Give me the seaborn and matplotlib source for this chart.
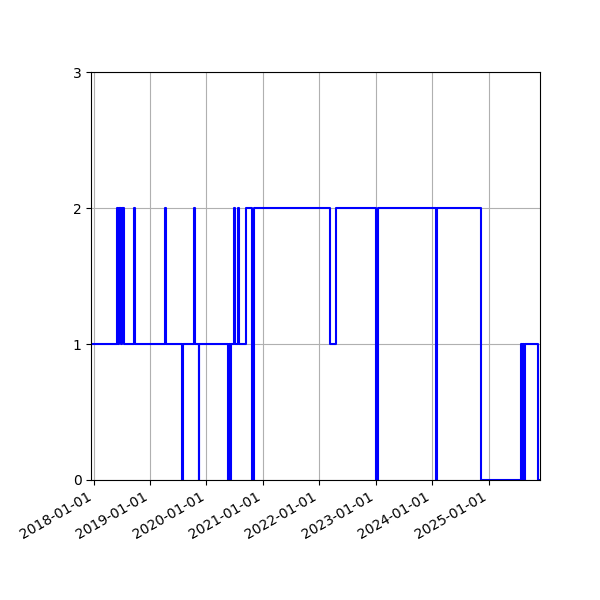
import pandas as pd
import matplotlib
matplotlib.use('Agg')
import matplotlib.pyplot as plt
import matplotlib.dates as mdates
import seaborn as sns

# Step changes of the level (value holds until the next date)
dates = ['2017-12-17', '2018-06-02', '2018-06-10', '2018-06-15', '2018-06-29', '2018-07-04',
         '2018-07-20', '2018-09-21', '2018-09-27', '2019-04-08', '2019-04-13', '2019-07-29',
         '2019-08-04', '2019-10-15', '2019-10-21', '2019-11-12', '2019-11-18', '2020-05-18',
         '2020-05-25', '2020-05-31', '2020-06-07', '2020-07-01', '2020-07-08', '2020-07-22',
         '2020-07-30', '2020-09-15', '2020-10-26', '2020-11-02', '2022-03-12', '2022-04-20',
         '2023-01-05', '2023-01-15', '2024-01-24', '2024-02-03', '2024-11-16', '2025-07-29',
         '2025-08-03', '2025-08-10', '2025-08-16', '2025-08-23', '2025-11-15', '2025-11-30']
levels = [1, 2, 1, 2, 1, 2,
          1, 2, 1, 2, 1, 0,
          1, 2, 1, 0, 1, 0,
          1, 0, 1, 2, 1, 2,
          1, 2, 0, 2, 1, 2,
          0, 2, 0, 2, 0, 1,
          0, 1, 0, 1, 0, 0]

df = pd.DataFrame({'date': pd.to_datetime(dates), 'level': levels})

fig, ax = plt.subplots(figsize=(6, 6), dpi=100)
sns.lineplot(data=df, x='date', y='level', ax=ax, color='blue',
             drawstyle='steps-post', linewidth=1.5, estimator=None)

ax.set_ylim(0, 3)
ax.set_yticks([0, 1, 2, 3])
ax.set_xlim(df['date'].iloc[0], df['date'].iloc[-1])
ax.xaxis.set_major_locator(mdates.YearLocator())
ax.xaxis.set_major_formatter(mdates.DateFormatter('%Y-%m-%d'))
ax.set_xlabel('')
ax.set_ylabel('')
ax.grid(True)

fig.autofmt_xdate()
fig.subplots_adjust(left=0.152, right=0.9, top=0.88, bottom=0.2)
plt.savefig('out.png', dpi=100)
